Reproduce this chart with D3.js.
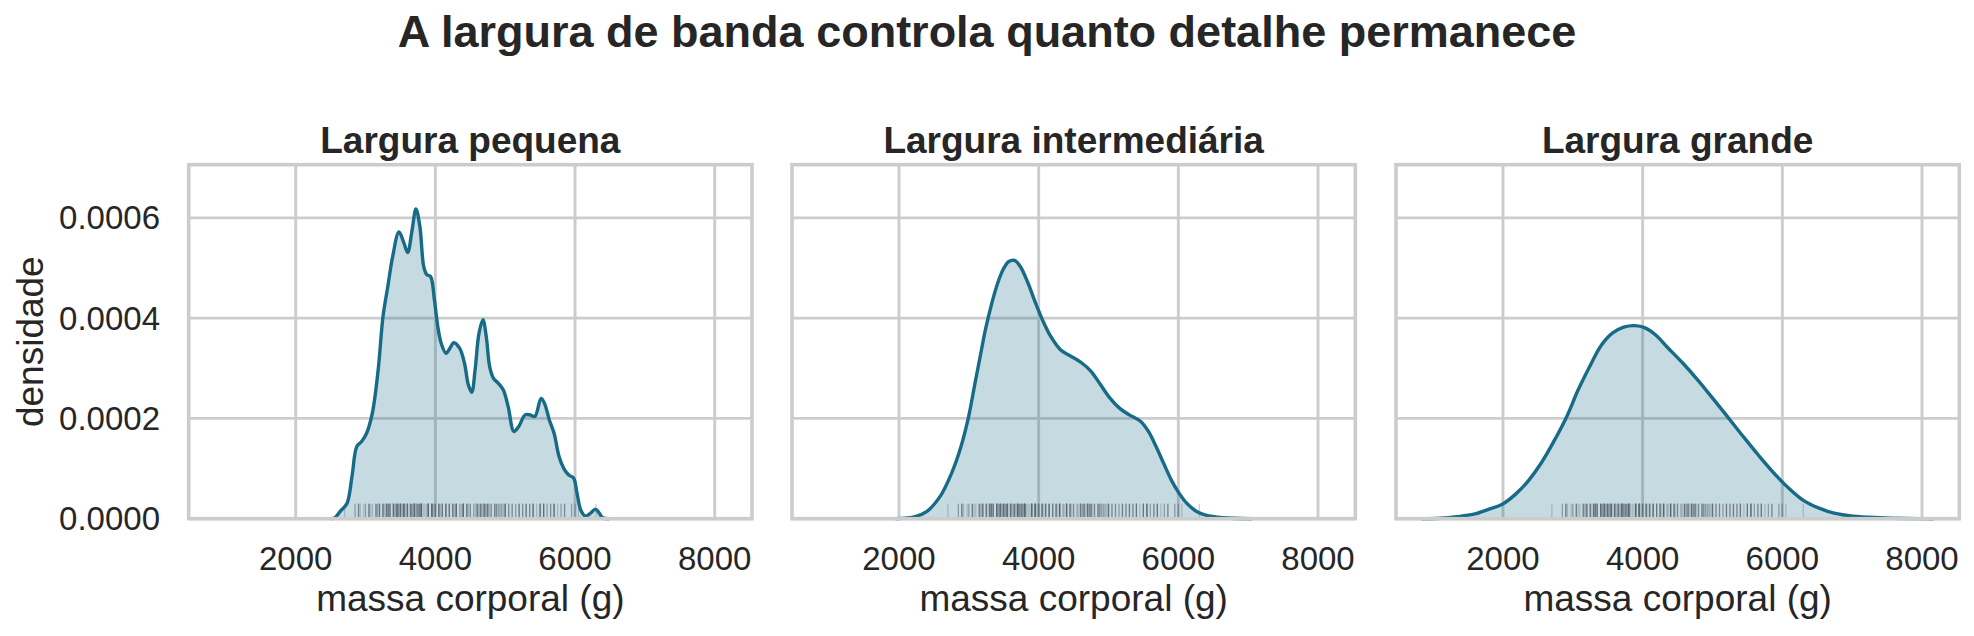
<!DOCTYPE html>
<html><head><meta charset="utf-8">
<script src="https://cdn.jsdelivr.net/npm/d3@7"></script>
<style>
body{margin:0;background:#fff}
text{font-family:"Liberation Sans",Arial,Helvetica,sans-serif;fill:#262626}
</style>
</head><body>
<svg id="c" width="1974" height="636"></svg>
<script>
// ---------- data ----------
const suptitle = "A largura de banda controla quanto detalhe permanece";
const panelTitles = ["Largura pequena", "Largura intermediária", "Largura grande"];
const xLabel = "massa corporal (g)";
const yLabel = "densidade";
const xTicks = [2000, 4000, 6000, 8000];
const yTicks = [0, 0.0002, 0.0004, 0.0006];

// density curves (mass in g, density)
const massSmall = [2513,2562,2646,2736,2806,2875,2944,3014,3097,3181,3250,3319,3389,3479,3549,3604,3667,3722,3778,3833,3875,3931,3986,4035,4083,4153,4208,4264,4347,4417,4472,4521,4569,4625,4681,4729,4778,4833,4903,4972,5042,5125,5194,5285,5354,5424,5514,5563,5632,5701,5771,5840,5910,5979,6028,6083,6153,6222,6292,6347,6396,6487];
const densSmall = [0,0.000002,0.000016,0.000031,0.000084,0.000144,0.000154,0.00017,0.00021,0.000297,0.000403,0.000463,0.000523,0.000572,0.00055,0.000531,0.000576,0.000618,0.000583,0.000503,0.000487,0.000483,0.000437,0.000383,0.00035,0.00033,0.00034,0.000351,0.00034,0.00031,0.000267,0.000252,0.000297,0.00037,0.000397,0.000363,0.000303,0.00028,0.00027,0.000257,0.000224,0.000174,0.000184,0.000207,0.000207,0.000204,0.00024,0.00023,0.000197,0.00017,0.000124,0.0001,0.000087,0.000081,0.000051,0.000017,0.000005,0.000011,0.000019,0.000011,0.000002,0];

const massMid = [1950,2231,2395,2587,2751,2888,2998,3080,3162,3244,3326,3409,3491,3573,3655,3737,3847,3956,4066,4175,4312,4449,4613,4750,4887,5024,5161,5298,5462,5572,5681,5791,5900,6010,6119,6256,6393,6640,7050];
const densMid = [0,0.000004,0.000014,0.000044,0.00009,0.000144,0.000204,0.000264,0.000323,0.000381,0.000428,0.000468,0.000497,0.000513,0.000515,0.000503,0.00047,0.00043,0.000393,0.000363,0.000337,0.000325,0.000311,0.000294,0.000267,0.00024,0.00022,0.000207,0.000194,0.000174,0.000144,0.00011,0.000077,0.000051,0.000031,0.000015,0.000007,0.000002,0];

const massLarge = [835,1100,1340,1584,1801,1991,2181,2371,2561,2751,2914,3077,3240,3403,3566,3729,3891,4027,4190,4353,4570,4787,5004,5222,5439,5656,5873,6090,6307,6525,6742,7013,7393,7800,8168];
const densLarge = [0,0.000001,0.000004,0.000009,0.000019,0.000029,0.000049,0.000077,0.000114,0.00016,0.000204,0.000257,0.000303,0.000345,0.000370,0.000382,0.000385,0.000381,0.000366,0.000342,0.000311,0.000277,0.00024,0.000202,0.000164,0.000127,0.000092,0.000061,0.000036,0.000021,0.000011,0.000005,0.000002,0.0000005,0];

// observations shown in the rug (body mass, g)
const bodyMass = [
3750,3800,3250,3450,3650,3625,4675,3475,4250,3300,3700,3200,3800,4400,3700,3450,4500,3325,4200,
3400,3600,3800,3950,3800,3800,3550,3200,3150,3950,
3250,3900,3300,3900,3325,4150,3950,3550,3300,4650,3150,3900,3100,4400,3000,4600,3425,2975,3450,4150,
3500,4300,3450,4050,2900,3700,3550,3800,2850,3750,3150,4400,3600,4050,2850,3950,3350,4100,3050,4450,
3600,3900,3550,4150,3700,4250,3700,3900,3550,4000,3200,4700,3800,4200,3350,3550,3800,3500,3950,3600,
3550,4300,3400,4450,3300,4300,3700,4350,2900,4100,3725,4725,3075,4250,2925,3550,3750,3900,3175,4775,
3825,4600,3200,4275,3900,4075,2900,3775,3350,3325,3150,3500,3450,3875,3050,4000,3275,4300,3050,4000,
3325,3500,3500,4475,3425,3900,3175,3975,3400,4250,3400,3475,3050,3725,3000,3650,4250,3475,3450,3750,3700,4000,
4500,5700,4450,5700,5400,4550,4800,5200,4400,5150,4650,5550,4650,5850,4200,5850,4150,6300,4800,5350,
5700,5000,4400,5050,5000,5100,4100,5650,4600,5550,5250,4700,5050,6050,5150,5400,4950,5250,4350,5350,
3950,5700,4300,4750,5550,4900,4200,5400,5100,5300,4850,5300,4400,5000,4900,5050,4300,5000,4450,5550,
4200,5300,4400,5650,4700,5700,4650,5800,4700,5550,4750,5000,5100,5200,4700,5800,4600,6000,4750,5950,
4625,5450,4725,5350,4750,5600,4600,5300,4875,5550,4950,5400,4750,5650,4850,5200,4925,4875,4625,5250,
4850,5600,4975,5500,4725,5500,4700,5500,4575,5500,5000,5950,4650,5500,4375,5850,4875,6000,4925,4850,5750,5200,5400,
3500,3900,3650,3525,3725,3950,3250,3750,4150,3700,3800,3775,3700,4050,3575,4050,3300,3700,3450,4400,
3600,3400,2900,3800,3300,4150,3400,3800,3700,4550,3200,4300,3350,4100,3600,3900,3850,4800,2700,4500,
3950,3650,3550,3500,3675,4450,3400,4300,3250,3675,3325,3950,3600,4050,3350,3450,3250,4050,3800,3525,
3950,3650,3650,4000,3400,3775,4100,3775
];

// ---------- drawing ----------
const curves = [
  {m: massSmall, d: densSmall},
  {m: massMid, d: densMid},
  {m: massLarge, d: densLarge}
];

const svg = d3.select("#c");
const lineColor = "#176b87";
const gridColor = "#cccccc";
const panelLeft = [188.7, 792, 1396];
const panelW = 563.3, plotTop = 164.7, panelH = 354;

const y = d3.scaleLinear().domain([0, 0.000706]).range([plotTop + panelH, plotTop]);

svg.append("text").attr("x", 987).attr("y", 47).attr("text-anchor", "middle")
  .style("font-size", "45px").style("font-weight", "bold").text(suptitle);

curves.forEach((c, i) => {
  const x = d3.scaleLinear().domain([468, 8534]).range([panelLeft[i], panelLeft[i] + panelW]);
  const g = svg.append("g");
  const cx = panelLeft[i] + panelW / 2;

  // grid
  g.selectAll(".vg").data(xTicks).join("line")
    .attr("x1", d => x(d)).attr("x2", d => x(d)).attr("y1", plotTop).attr("y2", plotTop + panelH)
    .attr("stroke", gridColor).attr("stroke-width", 2.9);
  g.selectAll(".hg").data(yTicks).join("line")
    .attr("y1", d => y(d)).attr("y2", d => y(d)).attr("x1", panelLeft[i]).attr("x2", panelLeft[i] + panelW)
    .attr("stroke", gridColor).attr("stroke-width", 2.9);

  const pts = c.m.map((m, k) => [m, c.d[k]]);
  const curve = d3.curveCatmullRom.alpha(0.5);
  const area = d3.area().x(p => x(p[0])).y0(y(0)).y1(p => Math.min(y(0), y(p[1]))).curve(curve);
  const line = d3.line().x(p => x(p[0])).y(p => y(p[1])).curve(curve);

  g.append("path").attr("d", area(pts)).attr("fill", lineColor).attr("fill-opacity", 0.25);
  g.append("path").attr("d", line(pts)).attr("fill", "none").attr("stroke", lineColor)
    .attr("stroke-width", 3.4).attr("stroke-linejoin", "round");

  // rug
  g.selectAll(".rug").data(bodyMass).join("line")
    .attr("x1", d => x(d)).attr("x2", d => x(d))
    .attr("y1", y(0)).attr("y2", y(0) - 15)
    .attr("stroke", "#5a6570").attr("stroke-opacity", 0.32).attr("stroke-width", 1.2);

  // frame
  g.append("rect").attr("x", panelLeft[i]).attr("y", plotTop).attr("width", panelW).attr("height", panelH)
    .attr("fill", "none").attr("stroke", gridColor).attr("stroke-width", 3.6);

  // x tick labels
  g.selectAll(".xt").data(xTicks).join("text")
    .attr("x", d => x(d)).attr("y", 570).attr("text-anchor", "middle")
    .style("font-size", "33px").text(d => d);

  g.append("text").attr("x", cx).attr("y", 611).attr("text-anchor", "middle")
    .style("font-size", "37px").text(xLabel);

  g.append("text").attr("x", cx).attr("y", 153).attr("text-anchor", "middle")
    .style("font-size", "37px").style("font-weight", "bold").text(panelTitles[i]);

  if (i === 0) {
    g.selectAll(".yt").data(yTicks).join("text")
      .attr("x", 160).attr("y", d => y(d)).attr("dy", "0.35em").attr("text-anchor", "end")
      .style("font-size", "33px").text(d => d.toFixed(4));
    g.append("text").attr("transform", `translate(43,${plotTop + panelH / 2}) rotate(-90)`)
      .attr("text-anchor", "middle").style("font-size", "37px").text(yLabel);
  }
});
</script>
</body></html>
